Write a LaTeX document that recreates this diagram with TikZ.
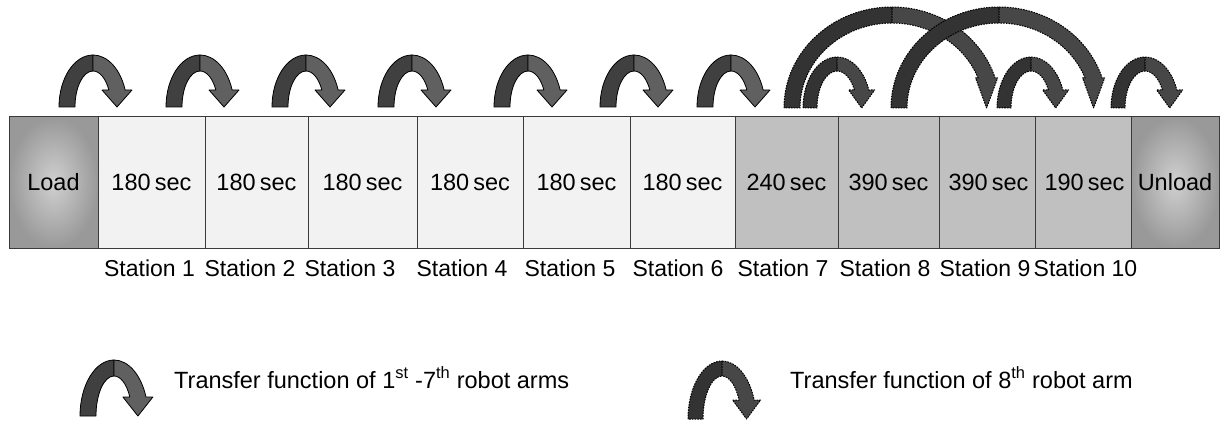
\documentclass[tikz,border=0pt]{standalone}
\usepackage{fontspec}
\setmainfont{Liberation Sans}
\definecolor{armback}{HTML}{404040}
\definecolor{armfront}{HTML}{606060}
\definecolor{longback}{HTML}{333333}
\definecolor{longfront}{HTML}{474747}
\definecolor{lightstation}{HTML}{F2F2F2}
\definecolor{darkstation}{HTML}{C0C0C0}
\definecolor{endcentre}{HTML}{D0D0D0}
\definecolor{endedge}{HTML}{999999}
\definecolor{frame}{HTML}{3A3A3A}

% curved transfer arrow: origin at the centre of the base line,
% outer half-width a, outer height b, band thickness t, head height h, head half-width w
\tikzset{
  arc a/.store in=\bendA, arc b/.store in=\bendB, arc t/.store in=\bendT,
  head h/.store in=\bendH, head w/.store in=\bendW,
  back/.store in=\bendBack, front/.store in=\bendFront,
  arc a=34, arc b=52, arc t=16, head h=17, head w=15, back=armback, front=armfront,
  pics/bend/.style={code={
    \pgfmathsetmacro\bRa{\bendA}
    \pgfmathsetmacro\bRi{\bendA-\bendT}
    \pgfmathsetmacro\bRb{\bendB}
    \pgfmathsetmacro\bRbi{\bendB-\bendT}
    \pgfmathsetmacro\bPo{asin(\bendH/\bRb)}
    \pgfmathsetmacro\bPi{asin(\bendH/\bRbi)}
    \pgfmathsetmacro\bXo{\bRa*cos(\bPo)}
    \pgfmathsetmacro\bXi{\bRi*cos(\bPi)}
    \pgfmathsetmacro\bXc{(\bXo+\bXi)/2}
    \path[pic actions, fill=\bendBack] (-\bRa,0)
      arc[start angle=180, end angle=90, x radius=\bRa pt, y radius=\bRb pt]
      -- (0,\bRbi)
      arc[start angle=90, end angle=180, x radius=\bRi pt, y radius=\bRbi pt]
      -- cycle;
    \path[pic actions, fill=\bendFront] (0,\bRb)
      arc[start angle=90, end angle=\bPo, x radius=\bRa pt, y radius=\bRb pt]
      -- ({\bXc+\bendW},\bendH) -- (\bXc,0) -- ({\bXc-\bendW},\bendH)
      -- (\bXi,\bendH)
      arc[start angle=\bPi, end angle=90, x radius=\bRi pt, y radius=\bRbi pt]
      -- cycle;
  }},
  arm/.style={draw=black, line width=0.8pt, line join=round},
  longarm/.style={draw=black, line width=1pt, line join=round,
    dash pattern=on 1.6pt off 1.1pt, back=longback, front=longfront},
  station/.style={draw=frame, line width=1pt, minimum height=131pt,
    inner sep=0pt, font=\fontsize{23.5}{26}\selectfont},
  light/.style={station, fill=lightstation},
  dark/.style={station, fill=darkstation},
  endbox/.style={station, inner color=endcentre, outer color=endedge},
  lbl/.style={font=\fontsize{23}{26}\selectfont, anchor=base, inner sep=0pt},
  legendtext/.style={font=\fontsize{23.5}{26}\selectfont, anchor=base west, inner sep=0pt},
}

\begin{document}
\begin{tikzpicture}[x=1pt, y=1pt]
\useasboundingbox (0,0) rectangle (1220,421);

% stations of the line
\node[endbox, minimum width=89pt]  (load)   at (53.5,238.5)  {Load};
\node[light,  minimum width=107pt] (st1)    at (151.5,238.5) {180\hspace{0.18em}sec};
\node[light,  minimum width=103pt] (st2)    at (256.5,238.5) {180\hspace{0.18em}sec};
\node[light,  minimum width=109pt] (st3)    at (362.5,238.5) {180\hspace{0.18em}sec};
\node[light,  minimum width=106pt] (st4)    at (470,238.5)   {180\hspace{0.18em}sec};
\node[light,  minimum width=107pt] (st5)    at (576.5,238.5) {180\hspace{0.18em}sec};
\node[light,  minimum width=105pt] (st6)    at (682.5,238.5) {180\hspace{0.18em}sec};
\node[dark,   minimum width=103pt] (st7)    at (786.5,238.5) {240\hspace{0.18em}sec};
\node[dark,   minimum width=101pt] (st8)    at (888.5,238.5) {390\hspace{0.18em}sec};
\node[dark,   minimum width=96pt]  (st9)    at (987,238.5)   {\hspace{3pt}390\hspace{0.18em}sec};
\node[dark,   minimum width=96pt]  (st10)   at (1083,238.5)  {\hspace{3pt}190\hspace{0.18em}sec};
\node[endbox, minimum width=88pt]  (unload) at (1175,238.5)  {Unload};

% station names
\node[lbl] (n1)  at (149.5,144.5) {Station 1};
\node[lbl] (n2)  at (250,144.5)   {Station 2};
\node[lbl] (n3)  at (350,144.5)   {Station 3};
\node[lbl] (n4)  at (462,144.5)   {Station 4};
\node[lbl] (n5)  at (570,144.5)   {Station 5};
\node[lbl] (n6)  at (678,144.5)   {Station 6};
\node[lbl] (n7)  at (783,144.5)   {Station 7};
\node[lbl] (n8)  at (885,144.5)   {Station 8};
\node[lbl] (n9)  at (985,144.5)   {Station 9};
\node[lbl] (n10) at (1085.5,144.5) {Station 10};

% robot arms 1 to 7
\pic[arm] at (93,314)  {bend};
\pic[arm] at (200,314) {bend};
\pic[arm] at (306,314) {bend};
\pic[arm] at (412,314) {bend};
\pic[arm] at (528,314) {bend};
\pic[arm] at (634,314) {bend};
\pic[arm] at (731,314) {bend};

% robot arm 8
\pic[longarm, arc a=108, arc b=101, arc t=16, head h=30, head w=11] at (892,313) {bend};
\pic[longarm, arc a=108, arc b=101, arc t=16, head h=30, head w=11] at (999,313) {bend};
\pic[longarm, arc a=34, arc b=51, arc t=14, head h=18, head w=13] at (837,313)  {bend};
\pic[longarm, arc a=34, arc b=51, arc t=14, head h=18, head w=13] at (1031,313) {bend};
\pic[longarm, arc a=34, arc b=51, arc t=14, head h=18, head w=13] at (1145,313) {bend};

% legend
\pic[arm, arc a=34, arc b=56, arc t=16, head h=19] at (114,5) {bend};
\node[legendtext] (leg1) at (174,33) {Transfer function of 1\textsuperscript{st} -7\textsuperscript{th} robot arms};
\pic[longarm, arc a=34, arc b=58, arc t=15, head h=19, head w=14] at (722,2) {bend};
\node[legendtext] (leg2) at (790,33) {Transfer function of 8\textsuperscript{th} robot arm};
\end{tikzpicture}
\end{document}
